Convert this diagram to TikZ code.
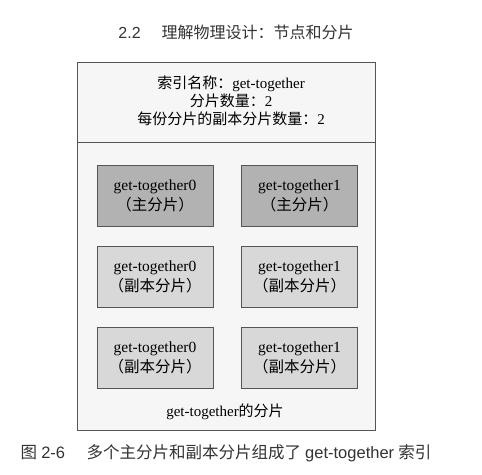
\documentclass[tikz,border=0pt]{standalone}
\usepackage{fontspec}
\setmainfont{Liberation Serif}
\newfontfamily\cjk{Noto Sans CJK SC}
\newfontfamily\latsans{Liberation Sans}
\definecolor{primgray}{RGB}{178,178,178}
\definecolor{repgray}{RGB}{216,216,216}
\definecolor{boxgray}{RGB}{246,246,246}
\definecolor{linegray}{RGB}{85,85,85}

\begin{document}
\begin{tikzpicture}[x=1pt,y=-1pt]
        \useasboundingbox (0,0) rectangle (482,474);
        % page header and caption
        \node (head) [font=\fontsize{16}{18}\selectfont, text=black!80] at (236, 32) {{\latsans 2.2}\hspace{1.3em}{\cjk 理解物理设计：节点和分片}};
        \node (cap) [font=\fontsize{16.5}{18}\selectfont, text=black!80] at (226, 453) {{\cjk 图} {\latsans 2-6}\hspace{1.3em}{\cjk 多个主分片和副本分片组成了} {\latsans get-together} {\cjk 索引}};
        % index box
        \draw[linegray, fill=boxgray, semithick] (77, 62) rectangle (375, 430);
        \draw[linegray, semithick] (77, 142) -- (375, 142);
        \node (info) [align=center, font=\fontsize{15}{18}\selectfont] at (231, 101)
            {{\cjk 索引名称：}get-together\\ {\cjk 分片数量：}2\\ {\cjk 每份分片的副本分片数量：}2};
        \begin{scope}[every node/.style={rectangle,draw=linegray,semithick,align=center,
                minimum width=116pt,minimum height=61pt,font=\fontsize{15.5}{20}\selectfont}]
            \node (S0) [fill=primgray] at (155, 195.5) {get-together0\\{\cjk （主分片）}};
            \node (S1) [fill=primgray] at (299.5, 195.5) {get-together1\\{\cjk （主分片）}};
            \node (R0a) [fill=repgray] at (155, 277) {get-together0\\{\cjk （副本分片）}};
            \node (R1a) [fill=repgray] at (299.5, 277) {get-together1\\{\cjk （副本分片）}};
            \node (R0b) [fill=repgray] at (155, 357.5) {get-together0\\{\cjk （副本分片）}};
            \node (R1b) [fill=repgray] at (299.5, 357.5) {get-together1\\{\cjk （副本分片）}};
        \end{scope}
        \node (foot) [font=\fontsize{15}{18}\selectfont] at (225, 412) {get-together{\cjk 的分片}};
    \end{tikzpicture}
\end{document}
